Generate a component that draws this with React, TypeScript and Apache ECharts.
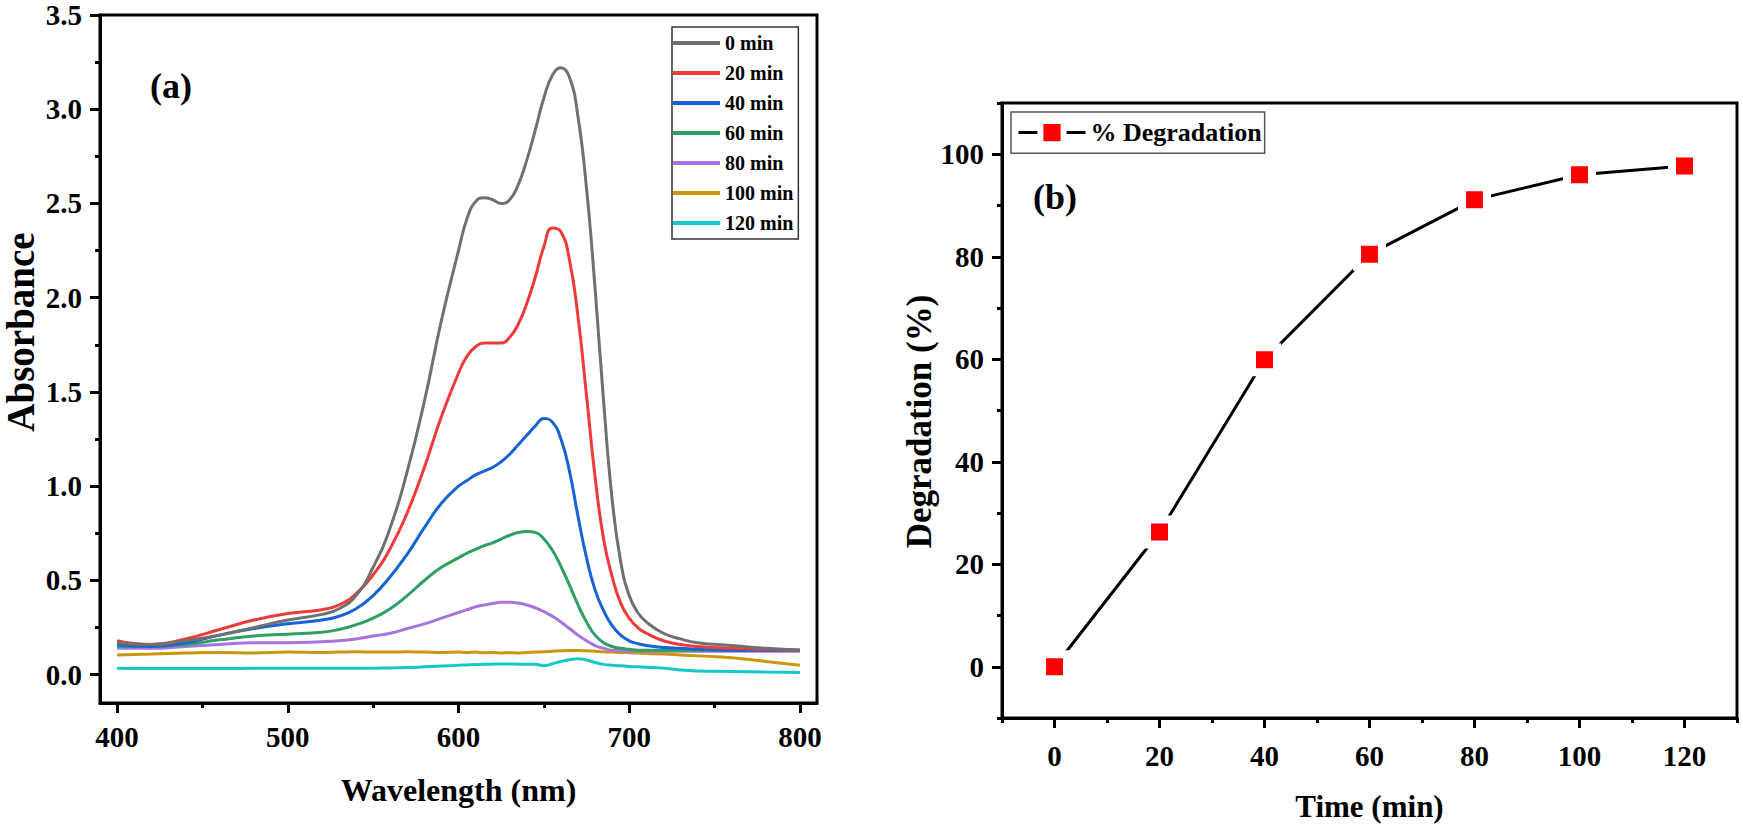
import React, { useEffect, useRef } from "react";
import * as echarts from "echarts";

// ---------- data ----------
const WAVELENGTHS = [
  400, 420, 440, 460, 480, 500, 520, 530, 540, 550, 560, 570, 580, 590, 600, 605, 610, 615, 620, 625, 630, 635,
  640, 645, 650, 655, 660, 665, 670, 675, 680, 685, 690, 695, 700, 705, 710, 720, 730, 740, 760, 780, 800,
];

const ABS_0MIN = [
  0.17, 0.16, 0.18, 0.21, 0.25, 0.29, 0.32, 0.35, 0.42, 0.57, 0.78, 1.08, 1.45, 1.88, 2.25, 2.42, 2.51, 2.53, 2.52,
  2.5, 2.52, 2.6, 2.73, 2.89, 3.06, 3.18, 3.22, 3.17, 2.96, 2.58, 2.05, 1.45, 0.93, 0.6, 0.42, 0.33, 0.28, 0.22,
  0.19, 0.17, 0.155, 0.14, 0.13,
];
const ABS_20MIN = [
  0.18, 0.16, 0.19, 0.24, 0.29, 0.325, 0.345, 0.37, 0.43, 0.53, 0.67, 0.86, 1.1, 1.37, 1.6, 1.69, 1.74, 1.76, 1.76,
  1.76, 1.79, 1.86, 1.97, 2.11, 2.27, 2.37, 2.35, 2.2, 1.9, 1.48, 1.05, 0.72, 0.52, 0.38, 0.3, 0.25, 0.22, 0.18,
  0.16, 0.15, 0.14, 0.135, 0.13,
];
const ABS_40MIN = [
  0.16, 0.15, 0.17, 0.21, 0.245, 0.27, 0.29, 0.31, 0.35, 0.42, 0.52, 0.64, 0.78, 0.91, 1.0, 1.03, 1.06, 1.08, 1.1,
  1.13, 1.17, 1.22, 1.27, 1.32, 1.36, 1.34, 1.25, 1.08, 0.84, 0.62, 0.45, 0.34, 0.26, 0.21, 0.18, 0.165, 0.155,
  0.145, 0.14, 0.135, 0.13, 0.13, 0.13,
];
const ABS_60MIN = [
  0.15, 0.15, 0.16, 0.185, 0.205, 0.215, 0.225, 0.24, 0.265, 0.3, 0.35, 0.42, 0.5, 0.57, 0.62, 0.645, 0.665, 0.685,
  0.7, 0.72, 0.74, 0.755, 0.76, 0.755, 0.72, 0.66, 0.575, 0.475, 0.37, 0.28, 0.21, 0.17, 0.15, 0.14, 0.135, 0.13,
  0.13, 0.13, 0.13, 0.13, 0.13, 0.13, 0.13,
];
const ABS_80MIN = [
  0.14, 0.14, 0.15, 0.16, 0.17, 0.17, 0.175, 0.18, 0.19, 0.205, 0.22, 0.245, 0.27, 0.3, 0.33, 0.345, 0.36, 0.37,
  0.378, 0.384, 0.385, 0.38, 0.37, 0.355, 0.335, 0.31, 0.28, 0.245, 0.21, 0.18, 0.155, 0.14, 0.13, 0.128, 0.125,
  0.125, 0.125, 0.125, 0.125, 0.125, 0.125, 0.125, 0.125,
];
const ABS_100MIN = [
  0.105, 0.11, 0.115, 0.118, 0.115, 0.12, 0.118, 0.12, 0.122, 0.12, 0.12, 0.122, 0.12, 0.118, 0.12, 0.118, 0.12,
  0.117, 0.118, 0.115, 0.117, 0.115, 0.118, 0.12, 0.122, 0.125, 0.127, 0.128, 0.128, 0.127, 0.125, 0.122, 0.12,
  0.118, 0.117, 0.115, 0.113, 0.11, 0.105, 0.1, 0.09, 0.07, 0.05,
];
const ABS_120MIN = [
  0.035, 0.033, 0.033, 0.033, 0.034, 0.034, 0.034, 0.034, 0.035, 0.035, 0.036, 0.038, 0.042, 0.046, 0.05, 0.052,
  0.054, 0.055, 0.056, 0.057, 0.057, 0.056, 0.055, 0.055, 0.048, 0.058, 0.07, 0.08, 0.085, 0.078, 0.065, 0.055,
  0.05, 0.047, 0.044, 0.042, 0.04, 0.035, 0.025, 0.02, 0.017, 0.014, 0.012,
];

const SPECTRA_NAMES = ["0 min", "20 min", "40 min", "60 min", "80 min", "100 min", "120 min"];
const SPECTRA_COLORS = ["#707070", "#f03a3a", "#1663d6", "#2f9f62", "#a673df", "#c9960c", "#14c8c8"];
const SPECTRA = [ABS_0MIN, ABS_20MIN, ABS_40MIN, ABS_60MIN, ABS_80MIN, ABS_100MIN, ABS_120MIN];

const TIME_MIN = [0, 20, 40, 60, 80, 100, 120];
const DEGRADATION = [0, 26.3, 59.9, 80.5, 91.1, 96.0, 97.7];

// tick labels
const WL_TICKS = [400, 500, 600, 700, 800];
const WL_MINOR = [450, 550, 650, 750];
const ABS_TICKS = [0, 0.5, 1, 1.5, 2, 2.5, 3, 3.5];
const ABS_MINOR = [0.25, 0.75, 1.25, 1.75, 2.25, 2.75, 3.25];
const TIME_TICKS = [0, 20, 40, 60, 80, 100, 120];
const TIME_MINOR = [-10, 10, 30, 50, 70, 90, 110, 130];
const DEG_TICKS = [0, 20, 40, 60, 80, 100];
const DEG_MINOR = [-10, 10, 30, 50, 70, 90, 110];

// ---------- styling ----------
const FONT = '"Liberation Serif", "Times New Roman", serif';
const BLACK = "#000";

function mainAxis(o: any) {
  return {
    type: "value",
    gridIndex: o.grid,
    min: o.min,
    max: o.max,
    position: o.position,
    name: o.name,
    nameLocation: "middle",
    nameGap: o.nameGap,
    nameTextStyle: {
      color: BLACK,
      fontSize: o.nameSize,
      fontWeight: "bold",
      fontFamily: FONT,
      padding: o.namePadding || 0,
    },
    axisLine: { show: true, onZero: false, lineStyle: { color: BLACK, width: 3 } },
    axisTick: { show: true, customValues: o.ticks, length: 10, lineStyle: { color: BLACK, width: 3 } },
    axisLabel: {
      show: true,
      customValues: o.ticks,
      margin: o.margin,
      formatter: o.formatter,
      color: BLACK,
      fontSize: 29,
      fontWeight: "bold",
      fontFamily: FONT,
    },
    splitLine: { show: false },
    minorTick: { show: false },
  };
}

function minorAxis(o: any) {
  return {
    type: "value",
    gridIndex: o.grid,
    min: o.min,
    max: o.max,
    position: o.position,
    axisLine: { show: false, onZero: false },
    axisTick: { show: true, customValues: o.ticks, length: 5, lineStyle: { color: BLACK, width: 3 } },
    axisLabel: { show: false },
    splitLine: { show: false },
  };
}

function buildOption() {
  const spectraSeries = SPECTRA.map((vals, i) => ({
    name: SPECTRA_NAMES[i],
    type: "line",
    xAxisIndex: 0,
    yAxisIndex: 0,
    data: WAVELENGTHS.map((w, j) => [w, vals[j]]),
    symbol: "none",
    smooth: true,
    lineStyle: { color: SPECTRA_COLORS[i], width: 3 },
    itemStyle: { color: SPECTRA_COLORS[i] },
    z: 10 - i,
  }));

  const degSeries = {
    name: "% Degradation",
    type: "line",
    xAxisIndex: 2,
    yAxisIndex: 2,
    data: TIME_MIN.map((t, i) => [t, DEGRADATION[i]]),
    symbol: "rect",
    symbolSize: 25,
    lineStyle: { color: BLACK, width: 3 },
    itemStyle: { color: "#ff0000", borderColor: "#ffffff", borderWidth: 8 },
    z: 10,
  };

  return {
    animation: false,
    backgroundColor: "#ffffff",
    grid: [
      { left: 100, top: 15, width: 717, height: 688, show: true, borderColor: BLACK, borderWidth: 3, backgroundColor: "transparent" },
      { left: 1002, top: 103, width: 735, height: 617, show: true, borderColor: BLACK, borderWidth: 3, backgroundColor: "transparent" },
    ],
    xAxis: [
      mainAxis({ grid: 0, min: 390, max: 810, position: "bottom", ticks: WL_TICKS, margin: 19, name: "Wavelength (nm)", nameGap: 71, nameSize: 32 }),
      minorAxis({ grid: 0, min: 390, max: 810, position: "bottom", ticks: WL_MINOR }),
      mainAxis({ grid: 1, min: -10, max: 130, position: "bottom", ticks: TIME_TICKS, margin: 23, name: "Time (min)", nameGap: 73, nameSize: 31 }),
      minorAxis({ grid: 1, min: -10, max: 130, position: "bottom", ticks: TIME_MINOR }),
    ],
    yAxis: [
      mainAxis({
        grid: 0, min: -0.15, max: 3.5, position: "left", ticks: ABS_TICKS, margin: 18,
        name: "Absorbance", nameGap: 60, nameSize: 39, namePadding: [0, 0, 0, 54],
        formatter: (v: number) => v.toFixed(1),
      }),
      minorAxis({ grid: 0, min: -0.15, max: 3.5, position: "left", ticks: ABS_MINOR }),
      mainAxis({
        grid: 1, min: -10, max: 110, position: "left", ticks: DEG_TICKS, margin: 18,
        name: "Degradation (%)", nameGap: 64, nameSize: 35, namePadding: [0, 22, 0, 0],
      }),
      minorAxis({ grid: 1, min: -10, max: 110, position: "left", ticks: DEG_MINOR }),
    ],
    legend: [
      {
        data: SPECTRA_NAMES.map((n) => ({ name: n, icon: "rect" })),
        orient: "vertical",
        left: 672,
        top: 27,
        itemWidth: 47,
        itemHeight: 4,
        itemGap: 10,
        padding: [6, 5, 6, 1],
        borderColor: "#333",
        borderWidth: 1.5,
        selectedMode: false,
        textStyle: { color: BLACK, fontSize: 20, fontWeight: "bold", fontFamily: FONT },
      },
      {
        data: ["% Degradation"],
        orient: "horizontal",
        left: 1011,
        top: 112,
        itemWidth: 67,
        itemHeight: 29,
        padding: [6, 3, 6, 6],
        borderColor: "#555",
        borderWidth: 1.5,
        selectedMode: false,
        itemStyle: { borderWidth: 6 },
        lineStyle: { width: 3, color: BLACK },
        textStyle: { color: BLACK, fontSize: 26, fontWeight: "bold", fontFamily: FONT },
      },
    ],
    graphic: [
      { type: "text", left: 150, top: 68, style: { text: "(a)", font: `bold 36px ${FONT}`, fill: BLACK } },
      { type: "text", left: 1033, top: 179, style: { text: "(b)", font: `bold 36px ${FONT}`, fill: BLACK } },
    ],
    series: [...spectraSeries, degSeries],
  };
}

export default function App() {
  const ref = useRef<HTMLDivElement>(null);
  useEffect(() => {
    document.body.style.margin = "0";
    if (!ref.current) return;
    const chart = echarts.init(ref.current, undefined, { renderer: "svg" });
    chart.setOption(buildOption() as any);
    return () => chart.dispose();
  }, []);
  return (
    <div
      ref={ref}
      style={{ position: "fixed", left: 0, top: 0, width: 1743, height: 827, background: "#fff" }}
    />
  );
}
